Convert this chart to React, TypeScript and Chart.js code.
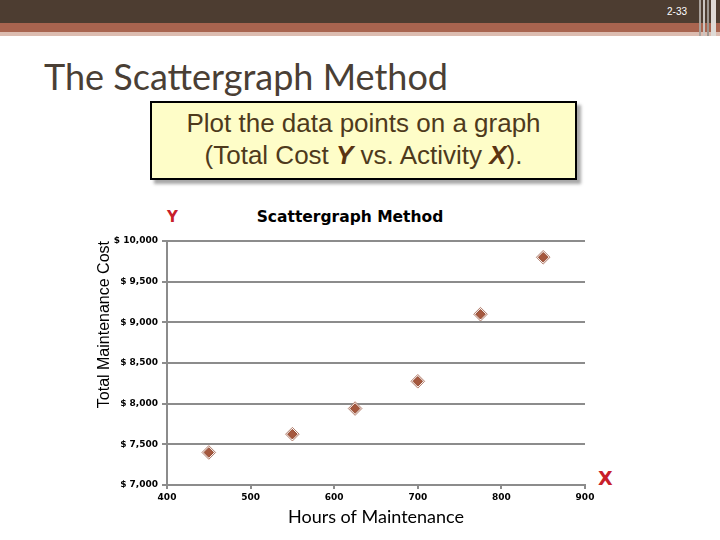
import { Chart, registerables } from 'chart.js'
import { useEffect, useRef } from 'react'

Chart.register(...registerables)

// hours of maintenance / total maintenance cost
const hours = [450, 550, 625, 700, 775, 850]
const costs = [7400, 7625, 7940, 8275, 9100, 9800]

const xTicks = [400, 500, 600, 700, 800, 900]
const yTicks = [7000, 7500, 8000, 8500, 9000, 9500, 10000]

const tickFont = { family: 'DejaVu Sans', size: 9, weight: 'bold' as const }

export default function App() {
  const chartRef = useRef<HTMLCanvasElement>(null)
  const chartInstance = useRef<Chart | null>(null)

  useEffect(() => {
    if (!chartRef.current) return
    if (chartInstance.current) chartInstance.current.destroy()

    const points = hours.map((h, i) => ({ x: h, y: costs[i] }))

    chartInstance.current = new Chart(chartRef.current, {
      type: 'scatter',
      data: {
        datasets: [
          // first dataset is drawn on top
          {
            label: 'Total Maintenance Cost',
            data: points,
            pointStyle: 'rectRot',
            pointRadius: 4.8,
            backgroundColor: '#a5583e',
            borderColor: '#94492f',
            borderWidth: 1,
          },
          {
            label: 'outline',
            data: points,
            pointStyle: 'rectRot',
            pointRadius: 6.8,
            backgroundColor: '#ffffff',
            borderColor: '#b07a68',
            borderWidth: 1,
          },
        ],
      },
      options: {
        animation: false,
        responsive: true,
        maintainAspectRatio: false,
        layout: { padding: { top: 51, left: 94.5, right: 135, bottom: 11.8 } },
        plugins: {
          legend: { display: false },
          tooltip: { enabled: false },
        },
        scales: {
          x: {
            type: 'linear',
            min: xTicks[0],
            max: xTicks[xTicks.length - 1],
            afterBuildTicks: (scale) => {
              scale.ticks = xTicks.map((v) => ({ value: v }))
            },
            afterFit: (scale) => {
              scale.height = 43.2
            },
            ticks: { font: tickFont, color: '#000', padding: 3 },
            grid: {
              drawOnChartArea: false,
              drawTicks: true,
              tickLength: 4,
              color: '#8c8c8c',
              lineWidth: 2,
            },
            border: { color: '#8c8c8c', width: 2 },
            title: {
              display: true,
              text: 'Hours of Maintenance',
              font: { family: 'Lato', size: 18 },
              color: '#000',
              padding: 0,
            },
          },
          y: {
            type: 'linear',
            min: yTicks[0],
            max: yTicks[yTicks.length - 1],
            afterBuildTicks: (scale) => {
              scale.ticks = yTicks.map((v) => ({ value: v }))
            },
            afterFit: (scale) => {
              scale.width = 72.5
            },
            ticks: {
              font: tickFont,
              color: '#000',
              padding: 4,
              callback: (v) => '$ ' + Number(v).toLocaleString('en-US'),
            },
            grid: {
              drawTicks: true,
              tickLength: 5,
              color: '#8c8c8c',
              lineWidth: 2,
            },
            border: { color: '#8c8c8c', width: 2 },
            title: {
              display: true,
              text: 'Total Maintenance Cost',
              align: 'end',
              font: { family: 'Liberation Sans', size: 16 },
              color: '#000',
              padding: 0,
            },
          },
        },
      },
    })

    return () => {
      if (chartInstance.current) {
        chartInstance.current.destroy()
        chartInstance.current = null
      }
    }
  }, [])

  return (
    <div
      style={{
        position: 'absolute',
        left: 0,
        top: 0,
        width: 720,
        height: 540,
        overflow: 'hidden',
        background: '#fff',
        fontFamily: 'Liberation Sans, Arial, sans-serif',
      }}
    >
      {/* slide header bands */}
      <div style={{ position: 'absolute', left: 0, top: 0, width: 720, height: 23, background: '#4d3d31' }} />
      <div style={{ position: 'absolute', left: 0, top: 23, width: 720, height: 9, background: '#a8644f' }} />
      <div style={{ position: 'absolute', left: 0, top: 32, width: 720, height: 4, background: '#dcbcb0' }} />
      <div style={{ position: 'absolute', left: 699, top: 0, width: 2, height: 36, background: '#a9a29c' }} />
      <div style={{ position: 'absolute', left: 703, top: 0, width: 2, height: 36, background: '#c9c4c0' }} />
      <div style={{ position: 'absolute', left: 707, top: 0, width: 2, height: 36, background: '#9c9690' }} />
      <div style={{ position: 'absolute', left: 711, top: 0, width: 5, height: 36, background: '#dedad6' }} />
      <div
        style={{
          position: 'absolute',
          left: 667,
          top: 6,
          fontSize: 10,
          color: '#fff',
          fontFamily: 'Liberation Sans',
        }}
      >
        2-33
      </div>

      {/* slide title */}
      <div
        style={{
          position: 'absolute',
          left: 44,
          top: 55,
          fontFamily: 'Lato',
          fontSize: 36,
          lineHeight: '43px',
          color: '#4a3f35',
          whiteSpace: 'nowrap',
        }}
      >
        The Scattergraph Method
      </div>

      {/* callout box */}
      <div
        style={{
          position: 'absolute',
          left: 150,
          top: 101,
          width: 423,
          height: 71,
          background: '#fefdc8',
          border: '2px solid #000',
          boxShadow: '4px 4px 3px #a8a8a8',
          textAlign: 'center',
          fontFamily: 'Liberation Sans',
          fontSize: 26,
          lineHeight: '32px',
          color: '#4e3a1c',
          paddingTop: 4,
          boxSizing: 'content-box',
        }}
      >
        Plot the data points on a graph
        <br />
        (Total Cost <b style={{ fontStyle: 'italic', color: '#5a3412' }}>Y</b> vs. Activity{' '}
        <b style={{ fontStyle: 'italic', color: '#5a3412' }}>X</b>).
      </div>

      {/* chart title and axis letters */}
      <div
        style={{
          position: 'absolute',
          left: 250,
          width: 200,
          top: 207,
          textAlign: 'center',
          fontFamily: 'DejaVu Sans',
          fontWeight: 'bold',
          fontSize: 15.5,
          lineHeight: '20px',
          color: '#000',
        }}
      >
        Scattergraph Method
      </div>
      <div
        style={{
          position: 'absolute',
          left: 167,
          top: 207,
          fontFamily: 'DejaVu Sans',
          fontWeight: 'bold',
          fontSize: 15,
          lineHeight: '20px',
          color: '#c8202a',
        }}
      >
        Y
      </div>
      <div
        style={{
          position: 'absolute',
          left: 598,
          top: 466,
          fontFamily: 'DejaVu Sans',
          fontWeight: 'bold',
          fontSize: 19,
          lineHeight: '24px',
          color: '#c8202a',
        }}
      >
        X
      </div>

      <div style={{ position: 'absolute', left: 0, top: 190, width: 720, height: 350 }}>
        <canvas ref={chartRef}></canvas>
      </div>
    </div>
  )
}
